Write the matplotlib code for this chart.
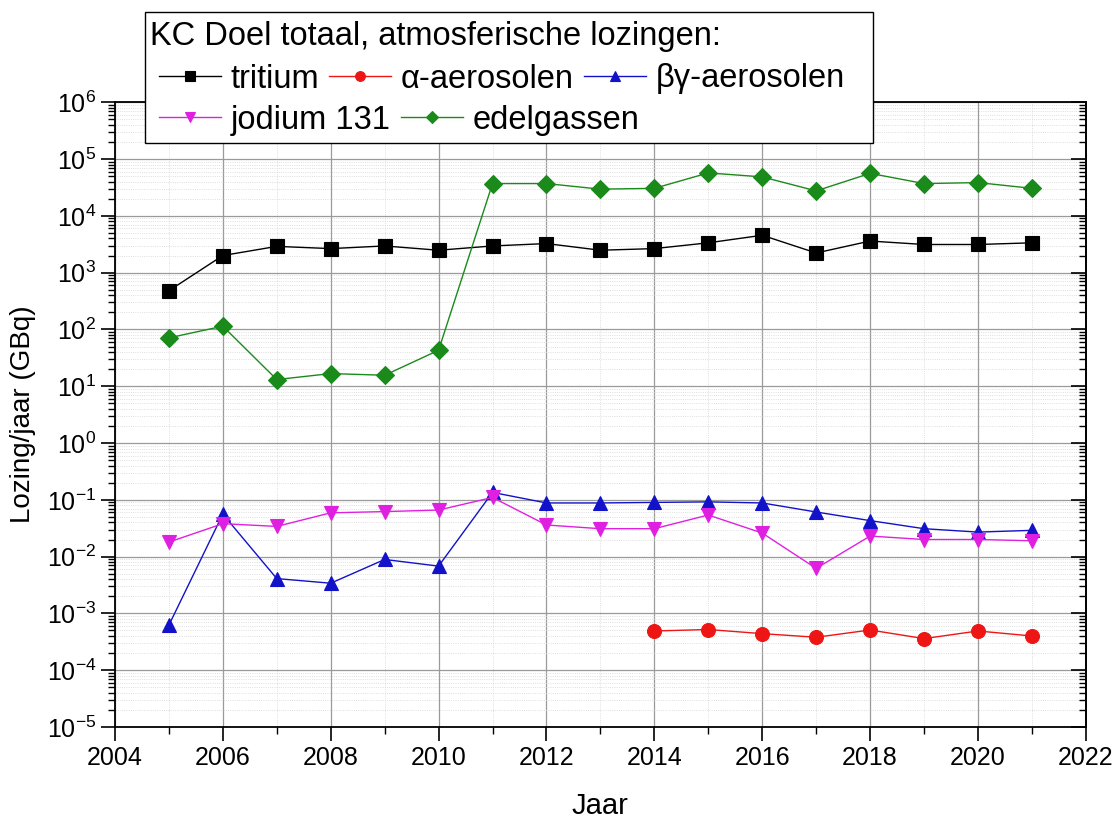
import numpy as np
import matplotlib
matplotlib.use("Agg")
import matplotlib.pyplot as plt
from matplotlib.patches import Rectangle
from matplotlib.ticker import LogLocator, NullFormatter, MultipleLocator

plt.rcParams['font.family'] = ['Liberation Sans', 'DejaVu Sans']
plt.rcParams['mathtext.fontset'] = 'custom'
plt.rcParams['mathtext.rm'] = 'Liberation Sans'
plt.rcParams['mathtext.it'] = 'Liberation Sans:italic'

# jaren en lozingen (GBq)
jaren = np.arange(2005, 2022)
tritium = [480, 2000, 2900, 2650, 2950, 2480, 2950, 3250, 2480, 2650,
           3350, 4550, 2220, 3600, 3130, 3130, 3350]
alfa_jaren = np.arange(2014, 2022)
alfa = [4.9e-4, 5.2e-4, 4.4e-4, 3.8e-4, 5.1e-4, 3.6e-4, 4.9e-4, 4.0e-4]
beta_gamma = [6.2e-4, 0.056, 0.0041, 0.0034, 0.0089, 0.0068, 0.135, 0.088,
              0.088, 0.090, 0.092, 0.088, 0.061, 0.043, 0.031, 0.027, 0.029]
jodium = [0.018, 0.038, 0.034, 0.059, 0.062, 0.066, 0.11, 0.036, 0.031,
          0.031, 0.054, 0.026, 0.0062, 0.023, 0.020, 0.020, 0.019]
edelgassen = [71, 114, 13.1, 16.7, 15.6, 43, 37000, 37000, 29500, 30500,
              57000, 48500, 27500, 56000, 37000, 38500, 30500]

W, H = 1116, 822
fig = plt.figure(figsize=(W / 100, H / 100), dpi=100)
ax = fig.add_axes([0.103, 0.1156, 0.870, 0.760])

kw = dict(lw=1.0, markersize=10, markeredgewidth=0.8)
h_t, = ax.plot(jaren, tritium, '-s', color='black', **kw)
h_a, = ax.plot(alfa_jaren, alfa, '-o', color='#ee1515', **kw)
h_b, = ax.plot(jaren, beta_gamma, '-^', color='#1212c8', **kw)
h_j, = ax.plot(jaren, jodium, '-v', color='#e020e0', **kw)
h_e, = ax.plot(jaren, edelgassen, '-D', color='#1a8a1a',
               lw=1.0, markersize=9, markeredgewidth=0.8)

ax.set_yscale('log')
ax.set_ylim(1e-5, 1e6)
ax.set_xlim(2004, 2022)
ax.xaxis.set_major_locator(MultipleLocator(2))
ax.xaxis.set_minor_locator(MultipleLocator(1))
ax.yaxis.set_major_locator(LogLocator(base=10, numticks=20))
ax.yaxis.set_minor_locator(LogLocator(base=10, subs=np.arange(2, 10), numticks=20))
ax.yaxis.set_minor_formatter(NullFormatter())

ax.grid(which='major', color='#9a9a9a', lw=0.9)
ax.grid(which='minor', color='#d4d4d4', lw=0.6, ls=':')
ax.set_axisbelow(True)

ax.tick_params(which='major', direction='out', length=10, width=1.2, labelsize=18)
ax.tick_params(which='minor', direction='out', length=5, width=1.0)
for s in ax.spines.values():
    s.set_linewidth(1.3)

# rechter as met ticks naar binnen
ax2 = ax.twinx()
ax2.set_yscale('log')
ax2.set_ylim(ax.get_ylim())
ax2.yaxis.set_major_locator(LogLocator(base=10, numticks=20))
ax2.yaxis.set_minor_locator(LogLocator(base=10, subs=np.arange(2, 10), numticks=20))
ax2.tick_params(which='major', direction='in', length=11, width=1.2, labelright=False)
ax2.tick_params(which='minor', direction='in', length=5, width=1.0, labelright=False)
for s in ax2.spines.values():
    s.set_visible(False)
ax2.spines['right'].set_visible(True)
ax2.spines['right'].set_linewidth(1.3)

ax.set_xlabel('Jaar', fontsize=21, labelpad=16)
ax.set_ylabel('Lozing/jaar (GBq)', fontsize=20, labelpad=8)

# legendekader met titel en twee rijen
fig.add_artist(Rectangle((145 / W, 1 - 143 / H), 728 / W, 131 / H,
                         transform=fig.transFigure, facecolor='white',
                         edgecolor='black', lw=1.0, zorder=4))
fig.text(150 / W, 1 - 36 / H, 'KC Doel totaal, atmosferische lozingen:',
         fontsize=23.5, va='center', ha='left', zorder=6)

leg_kw = dict(loc='center left', fontsize=23.5, frameon=False, ncol=3,
              handlelength=1.9, handletextpad=0.3, columnspacing=0.3,
              borderpad=0, borderaxespad=0, markerscale=0.7)
leg1 = fig.legend([h_t, h_a, h_b], ['tritium', 'α-aerosolen', 'βγ-aerosolen'],
                  bbox_to_anchor=(159 / W, 1 - 79 / H), **leg_kw)
leg2 = fig.legend([h_j, h_e], ['jodium 131', 'edelgassen'],
                  bbox_to_anchor=(159 / W, 1 - 120 / H), **leg_kw)
leg1.set_zorder(6)
leg2.set_zorder(6)

fig.savefig('out.png', dpi=100)
